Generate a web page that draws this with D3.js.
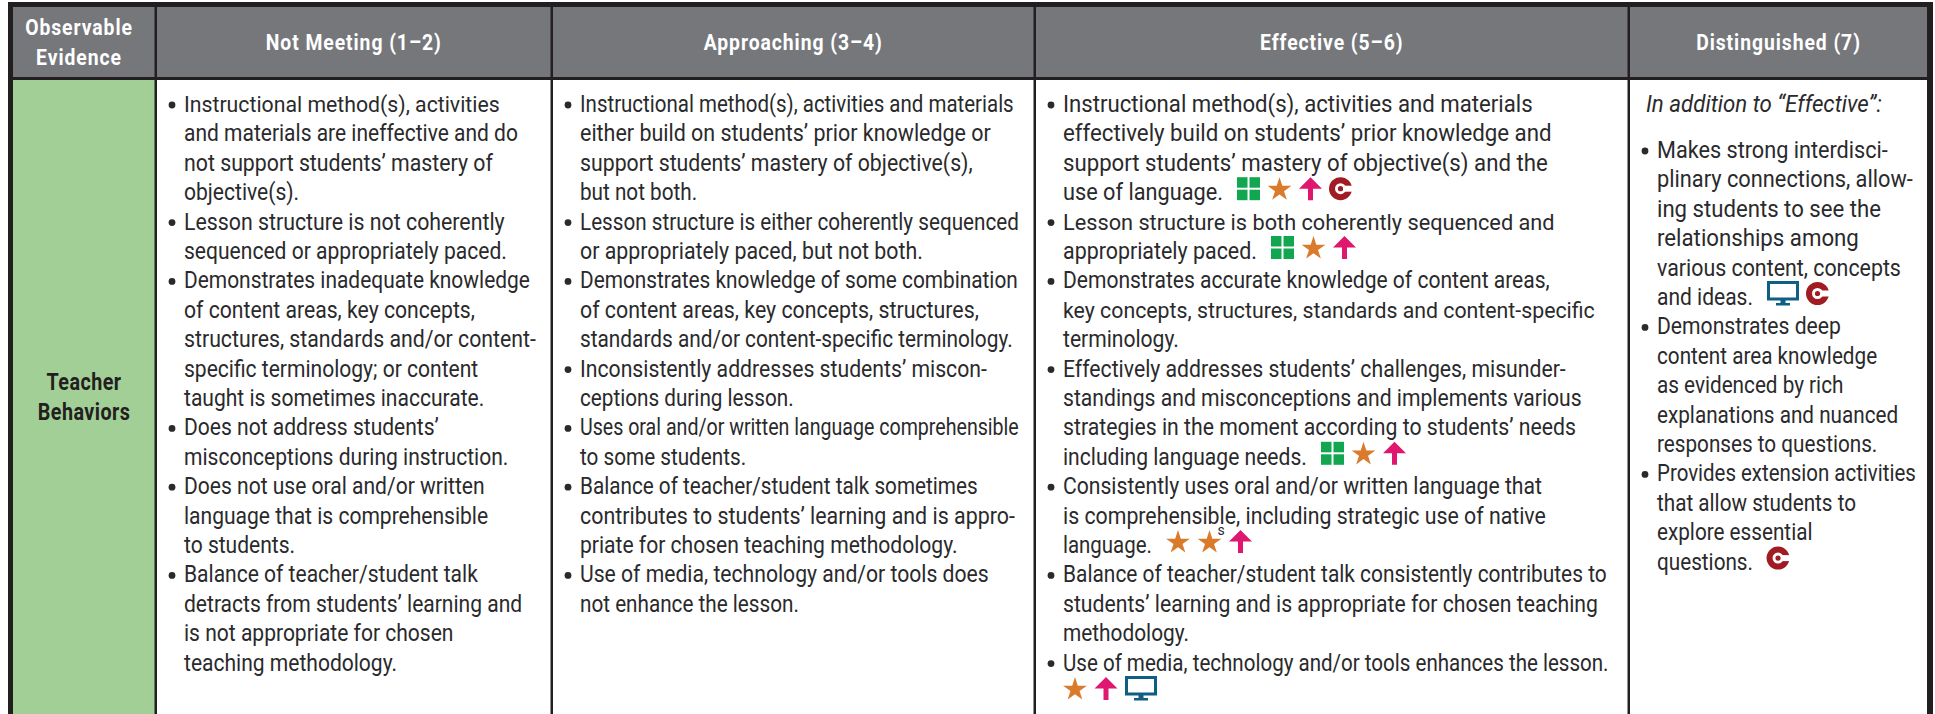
<!DOCTYPE html>
<html>
<head>
<meta charset="utf-8">
<script src="https://cdn.jsdelivr.net/npm/d3@7"></script>
<style>
html, body { margin: 0; padding: 0; background: #fff; overflow: hidden; }
svg { display: block; }
</style>
</head>
<body>
<svg width="1935" height="714"></svg>
<script>
const headers = [
    ["Observable", "Evidence"],
    ["Not Meeting (1–2)"],
    ["Approaching (3–4)"],
    ["Effective (5–6)"],
    ["Distinguished (7)"]
];
const rowLabel = ["Teacher", "Behaviors"];

// "• " marks the start of a bullet, the rest are continuation lines
const notMeeting = [
    "• Instructional method(s), activities",
    "and materials are ineffective and do",
    "not support students’ mastery of",
    "objective(s).",
    "• Lesson structure is not coherently",
    "sequenced or appropriately paced.",
    "• Demonstrates inadequate knowledge",
    "of content areas, key concepts,",
    "structures, standards and/or content-",
    "specific terminology; or content",
    "taught is sometimes inaccurate.",
    "• Does not address students’",
    "misconceptions during instruction.",
    "• Does not use oral and/or written",
    "language that is comprehensible",
    "to students.",
    "• Balance of teacher/student talk",
    "detracts from students’ learning and",
    "is not appropriate for chosen",
    "teaching methodology."
];
const approaching = [
    "• Instructional method(s), activities and materials",
    "either build on students’ prior knowledge or",
    "support students’ mastery of objective(s),",
    "but not both.",
    "• Lesson structure is either coherently sequenced",
    "or appropriately paced, but not both.",
    "• Demonstrates knowledge of some combination",
    "of content areas, key concepts, structures,",
    "standards and/or content-specific terminology.",
    "• Inconsistently addresses students’ miscon-",
    "ceptions during lesson.",
    "• Uses oral and/or written language comprehensible",
    "to some students.",
    "• Balance of teacher/student talk sometimes",
    "contributes to students’ learning and is appro-",
    "priate for chosen teaching methodology.",
    "• Use of media, technology and/or tools does",
    "not enhance the lesson."
];
const effective = [
    "• Instructional method(s), activities and materials",
    "effectively build on students’ prior knowledge and",
    "support students’ mastery of objective(s) and the",
    "use of language.",
    "• Lesson structure is both coherently sequenced and",
    "appropriately paced.",
    "• Demonstrates accurate knowledge of content areas,",
    "key concepts, structures, standards and content-specific",
    "terminology.",
    "• Effectively addresses students’ challenges, misunder-",
    "standings and misconceptions and implements various",
    "strategies in the moment according to students’ needs",
    "including language needs.",
    "• Consistently uses oral and/or written language that",
    "is comprehensible, including strategic use of native",
    "language.",
    "• Balance of teacher/student talk consistently contributes to",
    "students’ learning and is appropriate for chosen teaching",
    "methodology.",
    "• Use of media, technology and/or tools enhances the lesson.",
    ""
];
const distinguishedIntro = "In addition to “Effective”:";
const distinguished = [
    "• Makes strong interdisci-",
    "plinary connections, allow-",
    "ing students to see the",
    "relationships among",
    "various content, concepts",
    "and ideas.",
    "• Demonstrates deep",
    "content area knowledge",
    "as evidenced by rich",
    "explanations and nuanced",
    "responses to questions.",
    "• Provides extension activities",
    "that allow students to",
    "explore essential",
    "questions."
];

// icons that follow the text of a line: [line index, icon names]
const effectiveIcons = [
    [3, ["grid", "star", "arrow", "c"]],
    [5, ["grid", "star", "arrow"]],
    [12, ["grid", "star", "arrow"]],
    [15, ["star", "starS", "arrow"]],
    [20, ["star", "arrow", "screen"]]
];
const distinguishedIcons = [
    [5, ["screen", "c"]],
    [14, ["c"]]
];

const columns = [notMeeting, approaching, effective, distinguished];
const columnIcons = [[], [], effectiveIcons, distinguishedIcons];

const svg = d3.select("svg");
const W = 1935, H = 714;
const dark = "#231f20", grey = "#76777b", green = "#a2cf96", ink = "#2a2a2c";
const edges = [13, 157, 553, 1036, 1630, 1927];
const headTop = 7, headBottom = 77, bodyTop = 80;
const bodyFont = "Roboto, sans-serif";
const fontSize = 23;
// the printed face is condensed, so every column is squeezed sideways
const columnSqueeze = [0.915, 0.90, 0.90, 0.90];
// measured right end of the longer lines, the printed tracking varies line to line
const lineEnds = [
    { 0: 500, 1: 518, 2: 493, 4: 505, 5: 507, 6: 530, 7: 475, 8: 536 },
    { 0: 1014, 1: 991, 2: 973, 4: 1019, 5: 923, 6: 1018, 7: 979, 8: 1013, 9: 987, 11: 1019, 13: 978, 14: 1015, 15: 958, 16: 989 },
    { 0: 1533, 1: 1552, 2: 1548, 3: 1223, 4: 1555, 5: 1257, 6: 1550, 7: 1595, 8: 1179, 9: 1566, 10: 1582, 11: 1576, 12: 1307, 13: 1542, 14: 1546, 15: 1152, 16: 1607, 17: 1598, 18: 1189, 19: 1609 },
    { 0: 1888, 1: 1913, 2: 1881, 3: 1859, 4: 1901, 5: 1753, 6: 1841, 11: 1916 }
];
const introEnd = 1882;

const x = d3.scaleOrdinal().domain(d3.range(5)).range(edges.slice(0, 5));
const lineY = d3.scaleLinear().domain([0, 1]).range([112, 141.4]);

function squeezed(sel, px, py, sx) {
    return sel.attr("transform", `translate(${px},${py}) scale(${sx},1)`);
}

// page frame
svg.append("rect").attr("x", 8).attr("y", 2).attr("width", 1925).attr("height", H).attr("fill", dark);

// header and body cells
headers.forEach((h, i) => {
    const sep = i < 4 ? 2.5 : 0;
    const w = edges[i + 1] - edges[i] - sep;
    svg.append("rect").attr("x", x(i)).attr("y", headTop).attr("width", w).attr("height", headBottom - headTop).attr("fill", grey);
    svg.append("rect").attr("x", x(i)).attr("y", bodyTop).attr("width", w).attr("height", H).attr("fill", i === 0 ? green : "#fff");
    const cx = i === 0 ? 79 : x(i) + w / 2;
    h.forEach((s, k) => {
        const t = svg.append("text")
            .attr("text-anchor", "middle")
            .attr("font-family", bodyFont)
            .attr("font-weight", "bold")
            .attr("font-size", 22.5)
            .attr("letter-spacing", 1.1)
            .attr("fill", "#fff")
            .text(s);
        squeezed(t, cx, h.length > 1 ? 35 + k * 30 : 50, 0.86);
    });
});

// row label
rowLabel.forEach((s, k) => {
    const t = svg.append("text")
        .attr("text-anchor", "middle")
        .attr("font-family", bodyFont)
        .attr("font-weight", "bold")
        .attr("font-size", 23)
        .attr("letter-spacing", 0.5)
        .attr("fill", dark)
        .text(s);
    squeezed(t, 84, 390 + k * 29.5, 0.86);
});

// the little icons, drawn with their foot on the text baseline
function drawIcon(g, name) {
    if (name === "grid") {
        [[0, 0], [12.5, 0], [0, 12.5], [12.5, 12.5]].forEach(p => {
            g.append("rect").attr("x", p[0]).attr("y", p[1] - 23).attr("width", 10.5).attr("height", 10.5).attr("fill", "#12a650");
        });
        return 23;
    }
    if (name === "star" || name === "starS") {
        g.append("path")
            .attr("d", d3.symbol(d3.symbolStar, 175))
            .attr("transform", "translate(12,-10.5)")
            .attr("fill", "#d97b2a");
        if (name === "starS") {
            g.append("text").attr("x", 20).attr("y", -18).attr("font-family", bodyFont).attr("font-size", 14).attr("fill", ink).text("s");
        }
        return 24;
    }
    if (name === "arrow") {
        const a = d3.path();
        a.moveTo(11.5, -23); a.lineTo(23, -11.5); a.lineTo(14, -11.5); a.lineTo(14, 0);
        a.lineTo(9, 0); a.lineTo(9, -11.5); a.lineTo(0, -11.5); a.closePath();
        g.append("path").attr("d", a.toString()).attr("fill", "#e0176f");
        return 23;
    }
    if (name === "c") {
        g.append("circle").attr("cx", 11).attr("cy", -11.5).attr("r", 8.5).attr("fill", "none").attr("stroke", "#a01c22").attr("stroke-width", 6);
        g.append("rect").attr("x", 14).attr("y", -14.5).attr("width", 10).attr("height", 6).attr("fill", "#fff");
        g.append("circle").attr("cx", 11).attr("cy", -11.5).attr("r", 2.6).attr("fill", "#a01c22");
        return 22;
    }
    // screen
    g.append("rect").attr("x", 1.5).attr("y", -22.5).attr("width", 29).attr("height", 16.5).attr("fill", "none").attr("stroke", "#0f5f85").attr("stroke-width", 3);
    g.append("rect").attr("x", 13.5).attr("y", -5).attr("width", 5).attr("height", 4).attr("fill", "#0f5f85");
    g.append("rect").attr("x", 9).attr("y", -2).attr("width", 14).attr("height", 2.5).attr("fill", "#0f5f85");
    return 32;
}

function drawIcons(startX, y, names) {
    let ix = startX;
    names.forEach(n => {
        const g = svg.append("g").attr("transform", `translate(${ix},${y})`);
        ix += drawIcon(g, n) + 7.5;
    });
}

// body text, one text element per printed line
columns.forEach((lines, c) => {
    const colX = x(c + 1);
    const top = c === 3 ? 46 : 0;
    const textX = colX + 27;
    const bulletX = textX - 16;
    const icons = new Map(columnIcons[c]);
    const yOf = i => lineY(i) + top;

    lines.forEach((line, i) => {
        const isBullet = line.startsWith("• ");
        const body = isBullet ? line.slice(2) : line;
        if (isBullet) {
            svg.append("circle").attr("cx", bulletX + 4).attr("cy", yOf(i) - 7).attr("r", 3.4).attr("fill", ink);
        }
        const t = svg.append("text")
            .attr("font-family", bodyFont)
            .attr("font-size", fontSize)
            .attr("fill", ink)
            .text(body);
        const natural = t.node().getComputedTextLength();
        const end = lineEnds[c][i];
        const sx = end ? (end - textX) / natural : columnSqueeze[c];
        squeezed(t, textX, yOf(i), sx);
        if (icons.has(i)) {
            const len = body ? natural * sx + 14 : 0;
            drawIcons(textX + len, yOf(i), icons.get(i));
        }
    });

    if (c === 3) {
        const t = svg.append("text")
            .attr("font-family", bodyFont)
            .attr("font-style", "italic")
            .attr("font-size", fontSize)
            .attr("fill", ink)
            .text(distinguishedIntro);
        const px = colX + 16;
        squeezed(t, px, lineY(0), (introEnd - px) / t.node().getComputedTextLength());
    }
});
</script>
</body>
</html>
